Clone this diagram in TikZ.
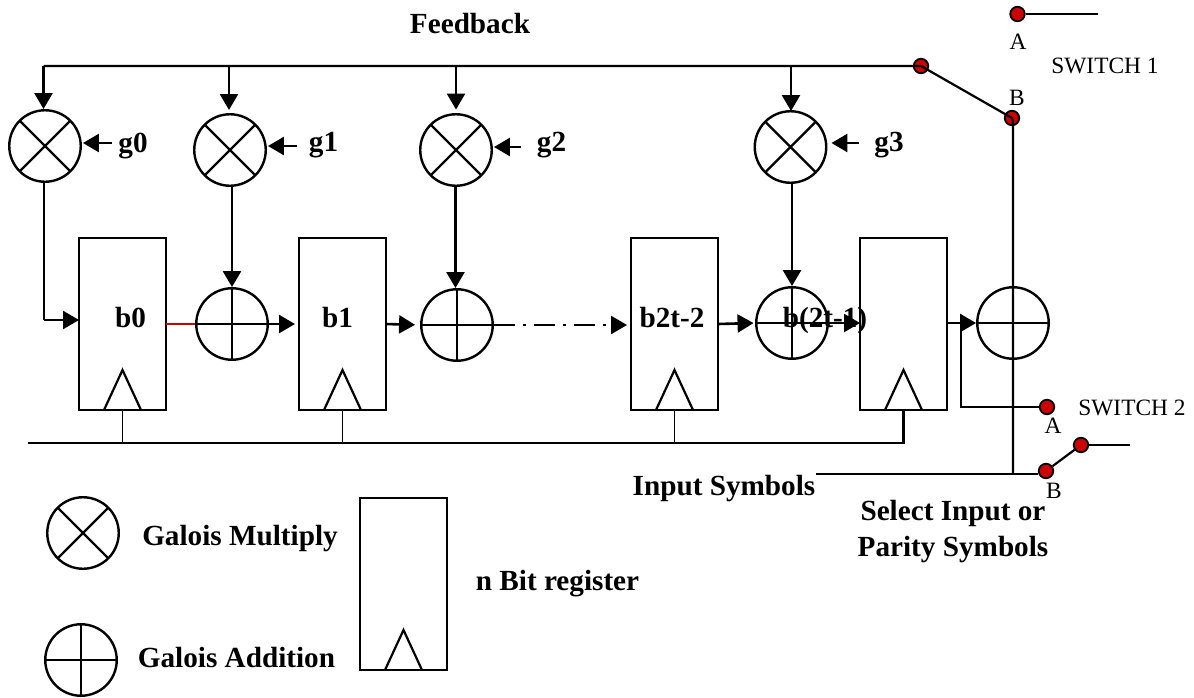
\documentclass[tikz,border=0pt]{standalone}
\usepackage{fontspec}
\setmainfont{Liberation Serif}
\usetikzlibrary{arrows.meta}
\tikzset{
  wire/.style={line width=2.2pt,draw=black},
  thinwire/.style={line width=1.8pt,draw=black},
  flow/.style={line width=2.6pt,draw=black,-{Triangle[length=16pt,width=18pt]}},
  gmul/.style={circle,draw=black,line width=2.4pt,minimum size=71.5pt,inner sep=0pt,outer sep=1.2pt,
    path picture={\draw[line width=2.4pt] (path picture bounding box.north west) -- (path picture bounding box.south east)
      (path picture bounding box.north east) -- (path picture bounding box.south west);}},
  gadd/.style={circle,draw=black,line width=2.4pt,minimum size=71.5pt,inner sep=0pt,outer sep=1.2pt,
    path picture={\draw[line width=2.4pt] (path picture bounding box.north) -- (path picture bounding box.south)
      (path picture bounding box.east) -- (path picture bounding box.west);}},
  regbox/.style={rectangle,draw=black,line width=2.2pt,minimum width=87pt,minimum height=172pt,inner sep=0pt,outer sep=0pt},
  swdot/.style={circle,draw=black,fill=red!80!black,line width=1.8pt,minimum size=14.5pt,inner sep=0pt},
  boldtxt/.style={inner sep=0pt,font=\fontsize{29.2}{32}\selectfont\bfseries,align=center},
  plaintxt/.style={inner sep=0pt,font=\fontsize{23.4}{25}\selectfont}
}
\begin{document}
\begin{tikzpicture}[x=1pt,y=-1pt]
\useasboundingbox (0,0) rectangle (1194,697);
% registers
\node[regbox] (r0) at (122.5,324) {};
\node[regbox] (r1) at (342.5,324) {};
\node[regbox] (r2) at (674.5,324) {};
\node[regbox] (r3) at (903.5,324) {};
\node[regbox] (rl) at (403.5,584) {};
\foreach \r in {r0,r1,r2,r3,rl}{
  \draw[wire] ([shift={(-18.5,0)}]\r.south) -- ([shift={(0,-40)}]\r.south) -- ([shift={(18.5,0)}]\r.south);
}
% multipliers
\node[gmul] (m0) at (45,146) {};
\node[gmul] (m1) at (230,150) {};
\node[gmul] (m2) at (456,150) {};
\node[gmul] (m3) at (790.5,147) {};
\node[gmul] (ml) at (83,533) {};
% adders
\node[gadd] (a1) at (232,324) {};
\node[gadd] (a2) at (457,325) {};
\node[gadd] (a3) at (792,323) {};
\node[gadd] (a4) at (1013,323) {};
\node[gadd] (al) at (81,660) {};
% switch contacts
\node[swdot] (s1a) at (1017.5,14) {};
\node[swdot] (s1c) at (921,66) {};
\node[swdot] (s1b) at (1012,118) {};
\node[swdot] (s2a) at (1047,407) {};
\node[swdot] (s2b) at (1046,471) {};
\node[swdot] (s2c) at (1081,445) {};
% free ends
\coordinate (topL) at (43.5,66);
\coordinate (s1out) at (1098,14);
\coordinate (s2out) at (1130,445);
\coordinate (busL) at (28,443);
\coordinate (busR) at (903.5,443);
\coordinate (inL) at (816,474);
\coordinate (inJ) at (1013,474);
\coordinate (r0in) at (44,320);
\coordinate (r0inE) at (79,320);
\coordinate (fbk) at (961,323);
\coordinate (fbkB) at (961,407);
\coordinate (vS) at (1013,122);
\coordinate (fb1) at (229,66);
\coordinate (fb1e) at (229,113.5);
\coordinate (fb3) at (791,66);
\coordinate (fb3e) at (791,112);
\coordinate (m2s) at (455.5,186);
\coordinate (a2n) at (455.5,288);
% feedback bus
\draw[wire] (topL) -- (s1c.center) -- (s1b.center) -- (vS) -- (inJ);
\draw[flow] (topL) -- (topL |- m0.north);
\draw[flow,shorten >=3.5pt] (fb1) -- (fb1e);
\draw[flow,shorten >=3.5pt] (m2.north |- topL) -- (m2.north);
\draw[flow,shorten >=1pt] (fb3) -- (fb3e);
\draw[wire] (s1a) -- (s1out);
% multiplier to adder
\draw[wire] (r0in |- m0.south) -- (r0in);
\draw[flow] (r0in) -- (r0inE);
\draw[flow] (a1.north |- m1.south) -- (a1.north);
\draw[flow] (m2s) -- (a2n);
\draw[flow] (a3.north |- m3.south) -- (a3.north);
% coefficient arrows
\coordinate (g0e) at (112,143);
\coordinate (g1e) at (297,146);
\coordinate (g2e) at (521,147);
\coordinate (g3e) at (859,143);
\draw[flow,shorten >=1pt] (g0e) -- (m0.east |- g0e);
\draw[flow,shorten >=1pt] (g1e) -- (m1.east |- g1e);
\draw[flow,shorten >=1pt] (g2e) -- (m2.east |- g2e);
\draw[flow,shorten >=4pt] (g3e) -- (m3.east |- g3e);
% data path
\draw[wire,draw=red!80!black] (r0.east) -- (a1.west);
\draw[flow,shorten >=4pt] (a1.east) -- (r1.west);
\draw[flow,shorten >=5pt] (r1.east) -- (a2.west);
\draw[flow,dash pattern=on 21pt off 8pt on 3pt off 8pt] (a2.east) -- ([xshift=-4pt]r2.west |- a2.east);
\draw[flow,shorten >=1.5pt] (r2.east) -- (a3.west);
\draw[flow] (a3.east) -- (r3.west |- a3.east);
\draw[flow] (r3.east |- a4.west) -- (a4.west);
% switch 2
\draw[wire] (fbk) -- (fbkB) -- (s2a);
\draw[wire] (inL) -- (s2b.west |- inL);
\draw[wire] (s2b) -- (s2c);
\draw[wire] (s2c) -- (s2out);
% clock
\draw[wire] (busL) -- (busR) -- (r3.south);
\draw[thinwire] (r0.south) -- (r0.south |- busL);
\draw[thinwire] (r1.south) -- (r1.south |- busL);
\draw[thinwire] (r2.south) -- (r2.south |- busL);
% labels
\node[boldtxt,anchor=base] (tfb) at (470,33) {Feedback};
\node[boldtxt,anchor=base] (tg0) at (133,152) {g0};
\node[boldtxt,anchor=base] (tg1) at (323.5,151) {g1};
\node[boldtxt,anchor=base] (tg2) at (551.5,151) {g2};
\node[boldtxt,anchor=base] (tg3) at (889,151) {g3};
\node[boldtxt,anchor=base] (tb0) at (130.5,327) {b0};
\node[boldtxt,anchor=base] (tb1) at (337.5,327) {b1};
\node[boldtxt,anchor=base] (tb2) at (672,327) {b2t-2};
\node[boldtxt,anchor=base] (tb3) at (825,327) {b(2t-1)};
\node[boldtxt,anchor=base] (tin) at (724,495) {Input Symbols};
\node[boldtxt] (tsel) at (953,531.5) {Select Input or\\[4pt]Parity Symbols};
\node[boldtxt,anchor=base] (tmul) at (240,545) {Galois Multiply};
\node[boldtxt,anchor=base] (tadd) at (236.5,667) {Galois Addition};
\node[boldtxt,anchor=base] (treg) at (557.5,590) {n Bit register};
\node[plaintxt] (ts1) at (1105,66) {SWITCH 1};
\node[plaintxt] (ts2) at (1132,408) {SWITCH 2};
\node[plaintxt] (t1a) at (1018,42) {A};
\node[plaintxt] (t1b) at (1017,98) {B};
\node[plaintxt] (t2a) at (1053,426) {A};
\node[plaintxt] (t2b) at (1054,491) {B};
\end{tikzpicture}
\end{document}
